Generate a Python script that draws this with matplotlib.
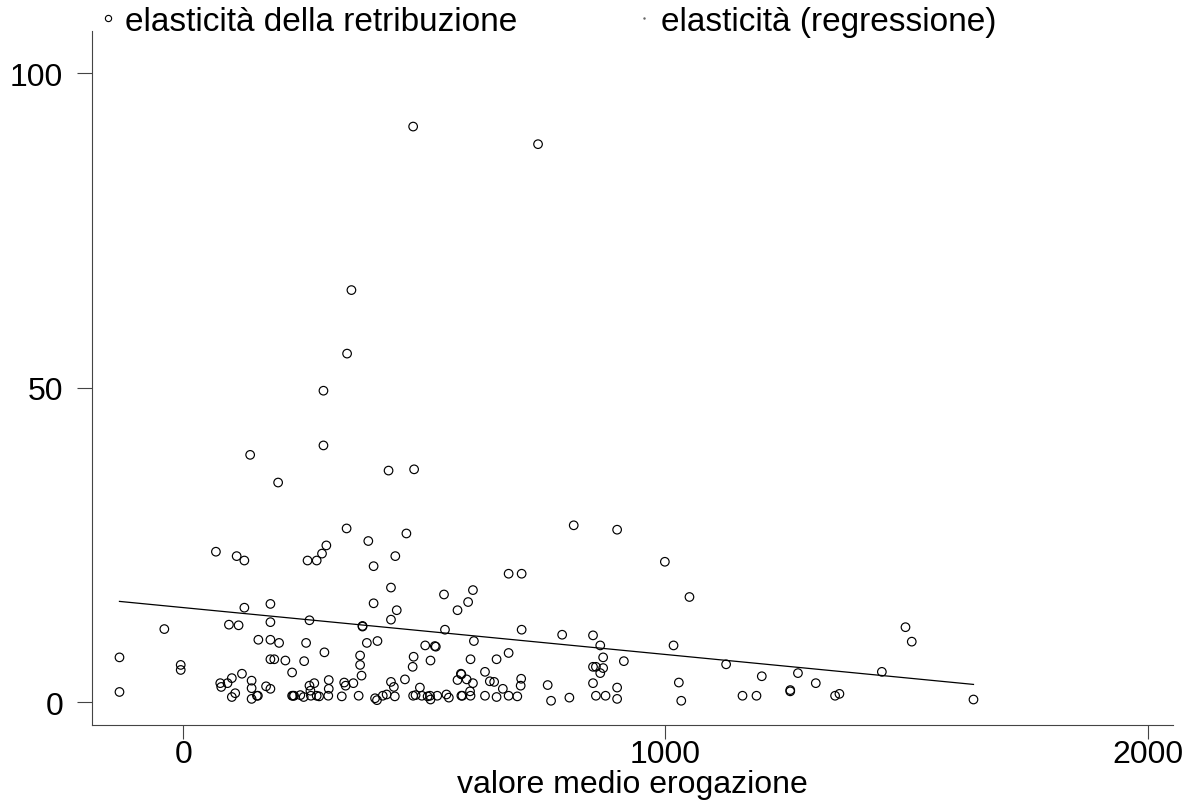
import matplotlib
matplotlib.use('Agg')
import matplotlib.pyplot as plt
from matplotlib.lines import Line2D

plt.rcParams['font.family'] = ['Liberation Sans', 'DejaVu Sans']

# valori: valore medio erogazione (x) e elasticita' (y)
valore = [68, 111, 127, 258, 277, 288, 297, 384, 440, 395,
          431, 541, 601, 591, 569, 675, 702, 127, 181, 395,
          443, -39, 95, 115, 181, 262, 372, 372, 431, 543,
          702, 603, 156, 181, 199, 255, 381, 403, 502, 522,
          524, -132, -5, -5, -132, 181, 189, 212, 251, 293,
          367, 367, 370, 226, 478, 476, 513, 596, 650, 675,
          701, 700, 626, 576, 577, 569, 588, 601, 636, 645,
          663, 595, 460, 431, 437, 491, 353, 334, 337, 302,
          302, 272, 262, 264, 172, 181, 142, 142, 122, 101,
          92, 77, 79, 108, 101, 142, 153, 155, 226, 228,
          230, 243, 250, 265, 277, 282, 301, 329, 364, 398,
          402, 414, 422, 439, 477, 482, 495, 507, 513, 512,
          527, 546, 551, 577, 579, 596, 626, 650, 675, 693,
          999, 1050, 786, 850, 865, 871, 914, 850, 856, 871,
          865, 1017, 1126, 1200, 1275, 1312, 1449, 1498, 1511, 1639,
          1028, 1033, 850, 900, 900, 856, 876, 801, 763, 756,
          1160, 1189, 1259, 1259, 1352, 1361,
          291, 291, 139, 197, 426, 479, 339, 463, 810, 900,
          477, 736, 349, 340]
elasticita = [23.9, 23.2, 22.5, 22.5, 22.5, 23.6, 24.9, 25.6, 23.2, 21.6,
              18.2, 17.1, 17.8, 15.9, 14.6, 20.4, 20.4, 15.0, 15.6, 15.7,
              14.6, 11.6, 12.3, 12.2, 12.7, 13.0, 12.1, 12.0, 13.1, 11.5,
              11.5, 9.7, 9.9, 9.9, 9.4, 9.4, 9.4, 9.7, 9.0, 8.9,
              8.8, 7.1, 5.9, 5.1, 1.6, 6.8, 6.8, 6.6, 6.5, 7.9,
              7.4, 5.9, 4.2, 4.7, 7.2, 5.6, 6.6, 6.8, 6.8, 7.8,
              3.7, 2.6, 4.8, 4.5, 4.4, 3.5, 3.6, 3.0, 3.3, 3.2,
              2.1, 1.7, 3.6, 3.2, 2.4, 2.3, 3.0, 3.1, 2.6, 3.5,
              2.1, 3.0, 2.6, 1.8, 2.5, 2.1, 3.4, 2.2, 4.5, 3.8,
              3.0, 3.0, 2.4, 1.4, 0.8, 0.5, 1.0, 1.0, 1.0, 1.0,
              1.0, 1.1, 0.8, 1.0, 1.0, 0.9, 1.0, 0.9, 1.0, 0.6,
              0.3, 1.0, 1.2, 0.9, 1.0, 1.1, 1.0, 0.9, 0.4, 1.0,
              1.0, 1.2, 0.7, 1.0, 1.0, 1.0, 1.0, 0.8, 1.0, 0.9,
              22.3, 16.7, 10.7, 10.6, 9.0, 7.1, 6.5, 5.6, 5.6, 5.4,
              4.6, 9.0, 6.0, 4.1, 4.6, 3.0, 4.8, 11.9, 9.6, 0.4,
              3.1, 0.2, 3.0, 2.3, 0.5, 1.0, 1.0, 0.7, 0.2, 2.7,
              1.0, 1.0, 1.9, 1.7, 1.0, 1.3,
              49.5, 40.8, 39.3, 34.9, 36.8, 37.0, 27.6, 26.8, 28.1, 27.4,
              91.5, 88.7, 65.5, 55.4]

# retta di regressione (estremi)
reg_x = [-132, 1639]
reg_y = [16.0, 2.8]

x_ticks = [0, 1000, 2000]
y_ticks = [0, 50, 100]

fig = plt.figure(figsize=(11.84, 8.03), dpi=100)
ax = fig.add_axes([0.0781, 0.0963, 0.9123, 0.8639])

ax.scatter(valore, elasticita, s=38, facecolors='none', edgecolors='black',
           linewidths=0.85, zorder=3)
ax.plot(reg_x, reg_y, color='black', linewidth=0.9, zorder=2)

ax.set_xlim(-188, 2052)
ax.set_ylim(-3.6, 106.7)
ax.set_xticks(x_ticks)
ax.set_yticks(y_ticks)

for s in ['top', 'right']:
    ax.spines[s].set_visible(False)
for s in ['left', 'bottom']:
    ax.spines[s].set_color('#444444')
    ax.spines[s].set_linewidth(0.8)

ax.tick_params(axis='y', length=11, pad=10, labelsize=23, color='#444444', width=0.8)
ax.tick_params(axis='x', length=10, pad=0, labelsize=23, color='#444444', width=0.8)
ax.set_xlabel('valore medio erogazione', fontsize=23, labelpad=0)

h1 = Line2D([], [], marker='o', markersize=4.5, markerfacecolor='none',
            markeredgecolor='black', markeredgewidth=0.8, linestyle='none')
h2 = Line2D([], [], marker='.', markersize=1.5, color='#666666', linestyle='none')
fig.legend([h1, h2], ['elasticità della retribuzione', 'elasticità (regressione)'],
           loc='upper left', bbox_to_anchor=(100 / 1184, 1 - 7 / 803), ncol=2,
           frameon=False, fontsize=24, handlelength=0.5, handletextpad=0.25,
           columnspacing=3.55, borderpad=0, borderaxespad=0)

fig.savefig('out.png', dpi=100)
